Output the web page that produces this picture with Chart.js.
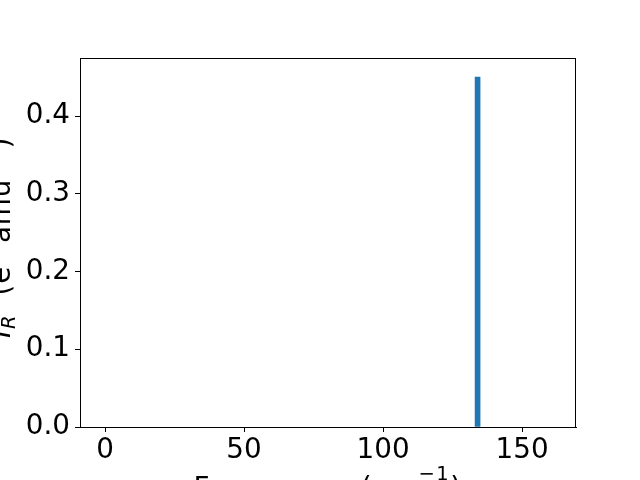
<!DOCTYPE html>
<html lang="en">
<head>
  <meta charset="UTF-8">
  <title>IR spectrum</title>
  <style>
    body { margin: 0; padding: 0; background: #fff; }
    .wrap { width: 640px; height: 480px; }
  </style>
</head>
<body>
  <div class="wrap"><canvas id="chart" width="640" height="480"></canvas></div>

  <script src="https://cdn.jsdelivr.net/npm/chart.js"></script>
  <script>
    // Data
    const frequencies = [134];
    const intensities = [0.45];
    const xTicks = [0, 50, 100, 150];
    const yTicks = [0.0, 0.1, 0.2, 0.3, 0.4];
    const xRange = [-9, 169.4];
    const yRange = [0, 0.4746];

    const FONT = '"DejaVu Sans", sans-serif';
    const FONT_SIZE = 27.8;
    const SMALL = 19.5;

    // draws a list of [text, fontSize, dy, italic] pieces one after another
    function drawPieces(ctx, pieces, x, y) {
      let cx = x;
      pieces.forEach(p => {
        ctx.font = (p[3] ? 'italic ' : '') + p[1] + 'px ' + FONT;
        ctx.fillText(p[0], cx, y + p[2]);
        cx += ctx.measureText(p[0]).width;
      });
    }
    function piecesWidth(ctx, pieces) {
      let w = 0;
      pieces.forEach(p => {
        ctx.font = (p[3] ? 'italic ' : '') + p[1] + 'px ' + FONT;
        w += ctx.measureText(p[0]).width;
      });
      return w;
    }

    const frameAndLabels = {
      id: 'frameAndLabels',
      afterDraw(chart) {
        const ctx = chart.ctx;
        const a = chart.chartArea;
        ctx.save();
        ctx.strokeStyle = '#000';
        ctx.lineWidth = 1;
        ctx.strokeRect(a.left + 0.5, a.top + 0.5, a.right - a.left - 1, a.bottom - a.top);

        ctx.fillStyle = '#000';
        ctx.textBaseline = 'alphabetic';
        ctx.textAlign = 'left';
        ctx.letterSpacing = '1.5px';

        // x label
        const xl = [['Frequency (cm', FONT_SIZE, 0], ['\u22121', SMALL, -17], [')', FONT_SIZE, 0]];
        const xw = piecesWidth(ctx, xl);
        drawPieces(ctx, xl, (a.left + a.right) / 2 - xw / 2, a.bottom + 70);

        // y label
        ctx.letterSpacing = '0.8px';
        const yl = [['I', FONT_SIZE, 0, true], ['R', SMALL, 5, true], ['  (e', FONT_SIZE, 0],
                    ['2', SMALL, -13], [' amu', FONT_SIZE, 0], ['\u22121', SMALL, -13], [')', FONT_SIZE, 0]];
        const yw = piecesWidth(ctx, yl);
        ctx.translate(10, (a.top + a.bottom) / 2 - 5);
        ctx.rotate(-Math.PI / 2);
        drawPieces(ctx, yl, -yw / 2, 0);
        ctx.restore();
      }
    };

    const tickFont = { family: FONT, size: FONT_SIZE };

    new Chart(document.getElementById('chart'), {
      type: 'bar',
      data: {
        datasets: [{
          data: frequencies.map((f, i) => ({ x: f, y: intensities[i] })),
          backgroundColor: '#1f77b4',
          borderWidth: 0,
          barThickness: 5
        }]
      },
      options: {
        responsive: false,
        animation: false,
        layout: { padding: { top: 58, right: 64, left: 0, bottom: 0 } },
        plugins: { legend: { display: false }, tooltip: { enabled: false } },
        scales: {
          x: {
            type: 'linear',
            offset: false,
            min: xRange[0],
            max: xRange[1],
            afterFit(s) { s.height = 53; },
            afterBuildTicks(s) { s.ticks = xTicks.map(v => ({ value: v })); },
            ticks: { font: tickFont, color: '#000', padding: 2, callback: v => String(v) },
            grid: { offset: false, drawOnChartArea: false, drawTicks: true, tickLength: 5, tickColor: '#000' },
            border: { color: '#000', width: 1 }
          },
          y: {
            min: yRange[0],
            max: yRange[1],
            afterFit(s) { s.width = 80; },
            afterBuildTicks(s) { s.ticks = yTicks.map(v => ({ value: v })); },
            ticks: { font: tickFont, color: '#000', padding: 5, callback: v => v.toFixed(1) },
            grid: { drawOnChartArea: false, drawTicks: true, tickLength: 5, tickColor: '#000' },
            border: { color: '#000', width: 1 }
          }
        }
      },
      plugins: [frameAndLabels]
    });
  </script>
</body>
</html>
